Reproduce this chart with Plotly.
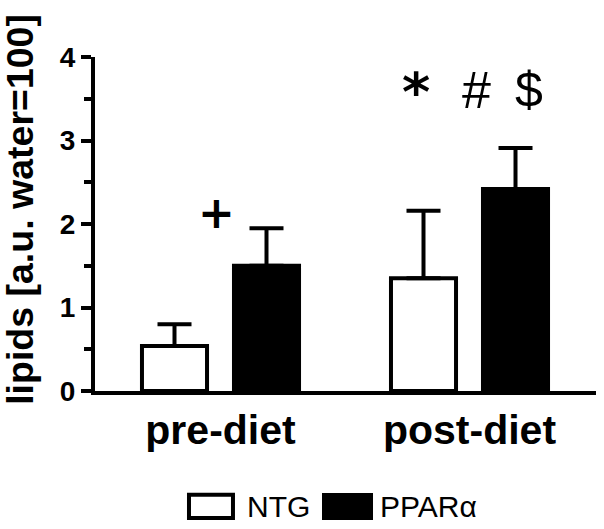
import plotly.graph_objects as go

categories = ["pre-diet", "post-diet"]
ntg_values = [0.54, 1.35]
ntg_err = [0.26, 0.81]
ppar_values = [1.50, 2.42]
ppar_err = [0.45, 0.49]
y_ticks = [0, 1, 2, 3, 4]
sig_marks = [("+", -0.016, 2.14), ("*", 0.785, 3.58), ("#", 1.030, 3.60), ("$", 1.239, 3.60)]

FONT = "Liberation Sans, Arial, sans-serif"
SIG_FONTS = {"+": ("DejaVu Sans", 44, True), "*": ("DejaVu Sans", 54, True),
             "#": (FONT, 52, False), "$": (FONT, 50, False)}

fig = go.Figure()
fig.add_trace(go.Bar(
    name="NTG", x=categories, y=ntg_values,
    marker=dict(color="white", line=dict(color="black", width=4)),
    error_y=dict(type="data", array=ntg_err, symmetric=False, arrayminus=[0, 0],
                 color="black", thickness=4, width=17),
))
fig.add_trace(go.Bar(
    name="PPARα", x=categories, y=ppar_values,
    marker=dict(color="black", line=dict(color="black", width=4)),
    error_y=dict(type="data", array=ppar_err, symmetric=False, arrayminus=[0, 0],
                 color="black", thickness=4, width=17),
))

annotations = []
for txt, xv, yv in sig_marks:
    fam, sz, bold = SIG_FONTS[txt]
    annotations.append(dict(x=xv, y=yv, xref="x", yref="y", xanchor="center", yanchor="middle",
                            text=f"<b>{txt}</b>" if bold else txt, showarrow=False,
                            font=dict(family=fam, size=sz, color="black")))

annotations.append(dict(x=-0.150, y=0.545, xref="paper", yref="paper",
                        xanchor="center", yanchor="middle",
                        text="<b>lipids [a.u. water=100]</b>", textangle=-90, showarrow=False,
                        font=dict(family=FONT, size=37.5, color="black")))

# legend drawn manually
annotations.append(dict(x=0.2994, y=-0.3458, xref="paper", yref="paper", xanchor="left",
                        yanchor="middle", text="NTG", showarrow=False,
                        font=dict(family=FONT, size=30, color="black")))
annotations.append(dict(x=0.5649, y=-0.3458, xref="paper", yref="paper", xanchor="left",
                        yanchor="middle", text="PPARα", showarrow=False,
                        font=dict(family=FONT, size=30, color="black")))

shapes = [
    dict(type="rect", xref="paper", yref="paper", x0=0.1876, x1=0.2754, y0=-0.380, y1=-0.311,
         line=dict(color="black", width=4), fillcolor="white"),
    dict(type="rect", xref="paper", yref="paper", x0=0.4531, x1=0.5549, y0=-0.3862, y1=-0.3054,
         line=dict(color="black", width=0), fillcolor="black"),
]

fig.update_layout(
    width=604, height=529,
    margin=dict(l=95, r=8, t=57, b=138),
    paper_bgcolor="white", plot_bgcolor="white",
    barmode="group", bargap=0.261, bargroupgap=0.293,
    showlegend=False,
    annotations=annotations, shapes=shapes,
    xaxis=dict(range=[-0.504, 1.508], showline=True, linecolor="black", linewidth=4,
               ticks="", showgrid=False, zeroline=False,
               tickfont=dict(family=FONT, size=41, color="black"),
               tickvals=categories, ticktext=["<b>pre-diet</b>", "<b>post-diet</b>"]),
    yaxis=dict(range=[0, 4], tickvals=y_ticks, ticktext=[f"<b>{v}</b>" for v in y_ticks],
               showline=True, linecolor="black", linewidth=4,
               ticks="outside", ticklen=10, tickwidth=4, tickcolor="black",
               minor=dict(dtick=0.5, ticks="outside", ticklen=7, tickwidth=4, tickcolor="black"),
               showgrid=False, zeroline=False,
               tickfont=dict(family=FONT, size=28, color="black")),
)

fig.write_html("out.html", post_script="document.body.style.margin='0';",
               config={"displayModeBar": False})
